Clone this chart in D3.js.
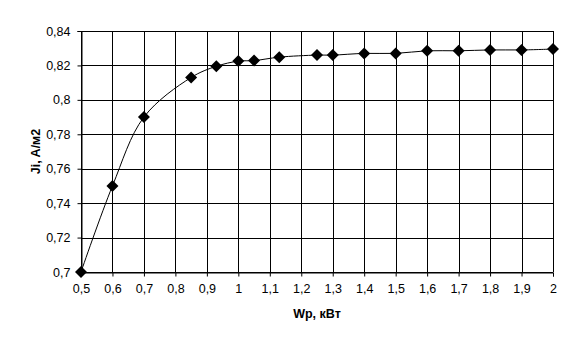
<!DOCTYPE html>
<html>
<head>
<meta charset="utf-8">
<script src="https://cdn.jsdelivr.net/npm/d3@7"></script>
<style>
  body { margin: 0; background: #fff; }
  text { font-family: Arial, "Liberation Sans", sans-serif; fill: #000; }
</style>
</head>
<body>
<div class="chart"></div>
<script>
'use strict';

// Wp, kW
const wp = [0.5, 0.6, 0.7, 0.85, 0.93, 1.0, 1.05, 1.13, 1.25, 1.3, 1.4, 1.5, 1.6, 1.7, 1.8, 1.9, 2.0];
// Ji, A/m2
const ji = [0.700, 0.750, 0.790, 0.813, 0.8195, 0.8225, 0.8228, 0.8248, 0.826, 0.826, 0.827, 0.827, 0.8285, 0.8285, 0.829, 0.829, 0.8295];

const xTicks = [0.5, 0.6, 0.7, 0.8, 0.9, 1, 1.1, 1.2, 1.3, 1.4, 1.5, 1.6, 1.7, 1.8, 1.9, 2];
const yTicks = [0.7, 0.72, 0.74, 0.76, 0.78, 0.8, 0.82, 0.84];
const xTitle = 'Wp, кВт';
const yTitle = 'Ji, A/м2';

const W = 581, H = 349;
const margin = {top: 31, right: 28, bottom: 77, left: 81};
const width = W - margin.left - margin.right;
const height = H - margin.top - margin.bottom;

const svg = d3.select('.chart').append('svg')
    .attr('width', W)
    .attr('height', H);

const g = svg.append('g')
    .attr('transform', 'translate(' + margin.left + ',' + margin.top + ')');

const x = d3.scaleLinear().domain([0.5, 2]).range([0, width]);
const y = d3.scaleLinear().domain([0.7, 0.84]).range([height, 0]);

const fmt = (v) => String(+v.toFixed(2)).replace('.', ',');

// grid
g.selectAll('.vgrid').data(xTicks).enter().append('line')
    .attr('x1', (d) => Math.round(x(d)) + 0.5)
    .attr('x2', (d) => Math.round(x(d)) + 0.5)
    .attr('y1', 0).attr('y2', height)
    .attr('stroke', '#000');

g.selectAll('.hgrid').data(yTicks).enter().append('line')
    .attr('y1', (d) => Math.round(y(d)) + 0.5)
    .attr('y2', (d) => Math.round(y(d)) + 0.5)
    .attr('x1', 0).attr('x2', width)
    .attr('stroke', '#000');

// axes
const xAxis = g.append('g')
    .attr('transform', 'translate(0,' + (Math.round(height) + 0.5) + ')')
    .call(d3.axisBottom(x).tickValues(xTicks).tickFormat(fmt).tickSizeOuter(0).tickSize(4).tickPadding(8));

const yAxis = g.append('g')
    .attr('transform', 'translate(0.5,0)')
    .call(d3.axisLeft(y).tickValues(yTicks).tickFormat(fmt).tickSizeOuter(0).tickSize(4).tickPadding(7));

[xAxis, yAxis].forEach((a) => {
    a.select('.domain').attr('stroke', '#000');
    a.selectAll('.tick line').attr('stroke', '#000');
    a.selectAll('.tick text')
        .style('font-family', 'Arial, "Liberation Sans", sans-serif')
        .style('font-size', '12.5px')
        .attr('fill', '#000');
});

// smoothed line
const line = d3.line()
    .x((d, i) => x(wp[i]))
    .y((d) => y(d))
    .curve(d3.curveCatmullRom.alpha(0.5));

g.append('path')
    .datum(ji)
    .attr('d', line)
    .attr('fill', 'none')
    .attr('stroke', '#000')
    .attr('stroke-width', 1);

// diamond markers
const diamond = d3.symbol().type(d3.symbolSquare).size(72);
g.selectAll('.marker').data(ji).enter().append('path')
    .attr('d', diamond)
    .attr('transform', (d, i) => 'translate(' + x(wp[i]) + ',' + y(d) + ') rotate(45)')
    .attr('fill', '#000');

// titles
svg.append('text')
    .attr('x', margin.left + width / 2)
    .attr('y', 318)
    .attr('text-anchor', 'middle')
    .style('font-size', '12.5px')
    .style('font-weight', 'bold')
    .text(xTitle);

svg.append('text')
    .attr('transform', 'translate(40,' + (margin.top + height / 2) + ') rotate(-90)')
    .attr('text-anchor', 'middle')
    .style('font-size', '12.5px')
    .style('font-weight', 'bold')
    .text(yTitle);
</script>
</body>
</html>
